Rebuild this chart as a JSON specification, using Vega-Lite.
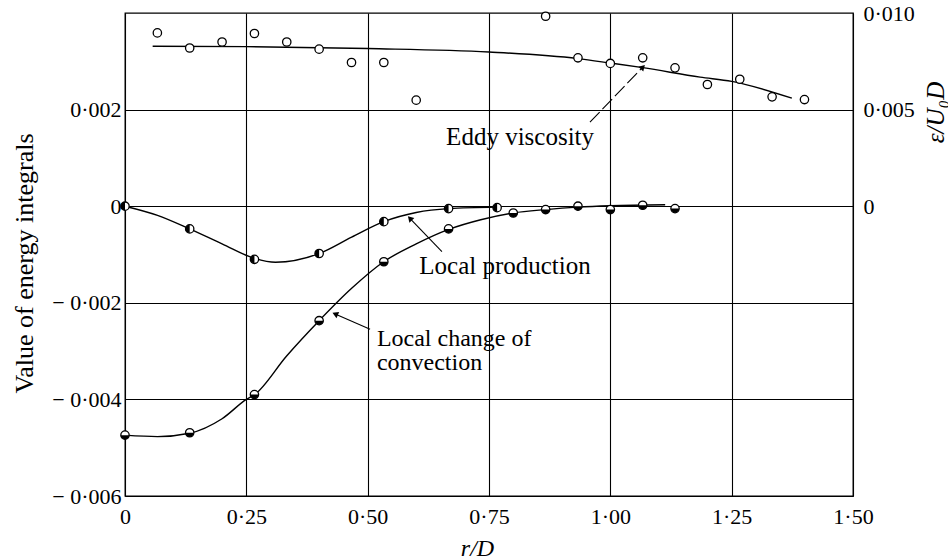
{
  "$schema": "https://vega.github.io/schema/vega-lite/v6.json",
  "width": 728,
  "height": 483,
  "autosize": {"type": "none"},
  "padding": {"left": 125, "top": 13, "right": 95, "bottom": 64},
  "background": "white",
  "config": {
    "view": {"stroke": "black", "strokeWidth": 1.3},
    "font": "Liberation Serif",
    "axis": {
      "labelFont": "Liberation Serif",
      "titleFont": "Liberation Serif",
      "labelColor": "black",
      "titleColor": "black",
      "domain": false,
      "ticks": false,
      "labelFontSize": 22,
      "titleFontSize": 25,
      "titleFontWeight": "normal",
      "gridColor": "black",
      "gridOpacity": 1,
      "gridWidth": 1.1
    }
  },
  "datasets": {
    "points": [
      {"series": "prod", "r": 0.0, "v": 0.0},
      {"series": "prod", "r": 0.1333, "v": -0.00047},
      {"series": "prod", "r": 0.2667, "v": -0.0011},
      {"series": "prod", "r": 0.4, "v": -0.00098},
      {"series": "prod", "r": 0.5333, "v": -0.00032},
      {"series": "prod", "r": 0.6667, "v": -0.00005},
      {"series": "prod", "r": 0.7667, "v": -0.00003},
      {"series": "conv", "r": 0.0, "v": -0.00474},
      {"series": "conv", "r": 0.1333, "v": -0.00469},
      {"series": "conv", "r": 0.2667, "v": -0.0039},
      {"series": "conv", "r": 0.4, "v": -0.00237},
      {"series": "conv", "r": 0.5333, "v": -0.00115},
      {"series": "conv", "r": 0.6667, "v": -0.00047},
      {"series": "conv", "r": 0.8, "v": -0.00014},
      {"series": "conv", "r": 0.8667, "v": -0.00007},
      {"series": "conv", "r": 0.9333, "v": 0.0},
      {"series": "conv", "r": 1.0, "v": -0.00007},
      {"series": "conv", "r": 1.0667, "v": 0.00002},
      {"series": "conv", "r": 1.1333, "v": -0.00005}
    ],
    "eddy": [
      {"r": 0.0667, "v": 0.00897},
      {"r": 0.1333, "v": 0.00819},
      {"r": 0.2, "v": 0.0085},
      {"r": 0.2667, "v": 0.00894},
      {"r": 0.3333, "v": 0.0085},
      {"r": 0.4, "v": 0.00813},
      {"r": 0.4667, "v": 0.00744},
      {"r": 0.5333, "v": 0.00744},
      {"r": 0.6, "v": 0.00549},
      {"r": 0.8667, "v": 0.00983},
      {"r": 0.9333, "v": 0.00768},
      {"r": 1.0, "v": 0.00739},
      {"r": 1.0667, "v": 0.00768},
      {"r": 1.1333, "v": 0.00716},
      {"r": 1.2, "v": 0.0063},
      {"r": 1.2667, "v": 0.00657},
      {"r": 1.3333, "v": 0.00566},
      {"r": 1.4, "v": 0.00552}
    ],
    "eddyCurve": [
      {"r": 0.057, "v": 0.00828},
      {"r": 0.25, "v": 0.00826},
      {"r": 0.5, "v": 0.00816},
      {"r": 0.75, "v": 0.00798},
      {"r": 0.933, "v": 0.00764},
      {"r": 1.0, "v": 0.00741},
      {"r": 1.067, "v": 0.00717},
      {"r": 1.185, "v": 0.00668},
      {"r": 1.25, "v": 0.00646},
      {"r": 1.374, "v": 0.00559}
    ],
    "curves": [
      {"series": "prod", "r": 0.0, "v": 0.0},
      {"series": "prod", "r": 0.067, "v": -0.00019},
      {"series": "prod", "r": 0.133, "v": -0.00047},
      {"series": "prod", "r": 0.2, "v": -0.00078},
      {"series": "prod", "r": 0.267, "v": -0.00108},
      {"series": "prod", "r": 0.31, "v": -0.00116},
      {"series": "prod", "r": 0.4, "v": -0.00098},
      {"series": "prod", "r": 0.467, "v": -0.00064},
      {"series": "prod", "r": 0.533, "v": -0.00032},
      {"series": "prod", "r": 0.6, "v": -0.00013},
      {"series": "prod", "r": 0.667, "v": -0.00005},
      {"series": "prod", "r": 0.767, "v": -0.00002},
      {"series": "conv", "r": 0.0, "v": -0.00474},
      {"series": "conv", "r": 0.067, "v": -0.00477},
      {"series": "conv", "r": 0.133, "v": -0.0047},
      {"series": "conv", "r": 0.2, "v": -0.0044},
      {"series": "conv", "r": 0.25, "v": -0.004},
      {"series": "conv", "r": 0.267, "v": -0.0039},
      {"series": "conv", "r": 0.333, "v": -0.0031},
      {"series": "conv", "r": 0.4, "v": -0.00237},
      {"series": "conv", "r": 0.467, "v": -0.0017},
      {"series": "conv", "r": 0.533, "v": -0.00115},
      {"series": "conv", "r": 0.6, "v": -0.00078},
      {"series": "conv", "r": 0.667, "v": -0.00048},
      {"series": "conv", "r": 0.733, "v": -0.00028},
      {"series": "conv", "r": 0.8, "v": -0.00014},
      {"series": "conv", "r": 0.867, "v": -0.00007},
      {"series": "conv", "r": 0.933, "v": -0.00002},
      {"series": "conv", "r": 1.0, "v": 0.00001},
      {"series": "conv", "r": 1.113, "v": 0.00003}
    ],
    "labels": [
      {"id": "eddy", "text": "Eddy viscosity", "r": 0.814, "v": 0.00127},
      {"id": "prod", "text": "Local production", "r": 0.783, "v": -0.00141},
      {"id": "conv", "text": "Local change of\nconvection", "r": 0.519, "v": -0.0029}
    ],
    "arrows": [
      {"id": "eddy", "r": 0.958, "v": 0.00174, "r2": 1.067, "v2": 0.00288},
      {"id": "prod", "r": 0.653, "v": -0.00094, "r2": 0.587, "v2": -0.00025},
      {"id": "conv", "r": 0.505, "v": -0.00255, "r2": 0.433, "v2": -0.00223}
    ]
  },
  "encoding": {
    "x": {
      "field": "r",
      "type": "quantitative",
      "scale": {"domain": [0, 1.5], "nice": false, "zero": false},
      "axis": {
        "values": [0, 0.25, 0.5, 0.75, 1.0, 1.25, 1.5],
        "labelExpr": "datum.value == 0 ? '0' : replace(format(datum.value, '.2f'), '.', '·')",
        "labelFlush": false,
        "labelPadding": 10,
        "grid": true,
        "title": "r/D",
        "titleFontStyle": "italic",
        "titleFontSize": 24,
        "titleX": 352,
        "titleY": 52,
        "titleBaseline": "middle",
        "titleAlign": "center"
      }
    }
  },
  "layer": [
    {
      "encoding": {
        "y": {
          "field": "v",
          "type": "quantitative",
          "scale": {"domain": [-0.006, 0.004], "nice": false, "zero": false},
          "axis": {
            "orient": "left",
            "values": [-0.006, -0.004, -0.002, 0, 0.002],
            "labelExpr": "datum.value == 0 ? '0' : (datum.value < 0 ? '− ' : '') + replace(format(abs(datum.value), '.3f'), '.', '·')",
            "labelPadding": 4,
            "grid": true,
            "title": "Value of energy integrals",
            "titleFontSize": 26,
            "titleX": -101,
            "titleY": 250,
            "titleAngle": -90,
            "titleAlign": "center",
            "titleBaseline": "middle"
          }
        }
      },
      "layer": [
        {
          "data": {"name": "curves"},
          "transform": [{"filter": "datum.series == 'prod'"}],
          "mark": {"type": "line", "interpolate": "monotone", "color": "black", "strokeWidth": 1.4}
        },
        {
          "data": {"name": "curves"},
          "transform": [{"filter": "datum.series == 'conv'"}],
          "mark": {"type": "line", "interpolate": "monotone", "color": "black", "strokeWidth": 1.4}
        },
        {
          "data": {"name": "arrows"},
          "transform": [{"filter": "datum.id == 'eddy'"}],
          "mark": {"type": "rule", "color": "black", "strokeWidth": 1.1, "strokeDash": [14, 4]},
          "encoding": {"x2": {"field": "r2"}, "y2": {"field": "v2"}}
        },
        {
          "data": {"name": "arrows"},
          "transform": [{"filter": "datum.id != 'eddy'"}],
          "mark": {"type": "rule", "color": "black", "strokeWidth": 1.1},
          "encoding": {"x2": {"field": "r2"}, "y2": {"field": "v2"}}
        },
        {
          "data": {"name": "arrows"},
          "transform": [{"filter": "datum.id == 'eddy'"}],
          "mark": {"type": "point", "shape": "triangle-up", "filled": true, "color": "black", "size": 45, "angle": 44, "opacity": 1},
          "encoding": {"x": {"field": "r2", "type": "quantitative"}, "y": {"field": "v2", "type": "quantitative"}}
        },
        {
          "data": {"name": "arrows"},
          "transform": [{"filter": "datum.id == 'prod'"}],
          "mark": {"type": "point", "shape": "triangle-up", "filled": true, "color": "black", "size": 45, "angle": -43, "opacity": 1},
          "encoding": {"x": {"field": "r2", "type": "quantitative"}, "y": {"field": "v2", "type": "quantitative"}}
        },
        {
          "data": {"name": "arrows"},
          "transform": [{"filter": "datum.id == 'conv'"}],
          "mark": {"type": "point", "shape": "triangle-up", "filled": true, "color": "black", "size": 45, "angle": -66, "opacity": 1},
          "encoding": {"x": {"field": "r2", "type": "quantitative"}, "y": {"field": "v2", "type": "quantitative"}}
        },
        {
          "data": {"name": "points"},
          "mark": {"type": "point", "shape": "circle", "filled": true, "fill": "white", "stroke": "black", "strokeWidth": 1.3, "size": 70, "opacity": 1}
        },
        {
          "data": {"name": "points"},
          "transform": [{"filter": "datum.series == 'prod'"}],
          "mark": {"type": "point", "shape": "M0,-1A1,1 0 0,0 0,1Z", "filled": true, "color": "black", "size": 70, "opacity": 1}
        },
        {
          "data": {"name": "points"},
          "transform": [{"filter": "datum.series == 'conv'"}],
          "mark": {"type": "point", "shape": "M-1,0A1,1 0 0,0 1,0Z", "filled": true, "color": "black", "size": 70, "opacity": 1}
        },
        {
          "data": {"name": "labels"},
          "transform": [{"filter": "datum.id != 'conv'"}],
          "mark": {"type": "text", "font": "Liberation Serif", "fontSize": 25, "color": "black", "align": "center", "baseline": "alphabetic"},
          "encoding": {"text": {"field": "text"}}
        },
        {
          "data": {"name": "labels"},
          "transform": [{"filter": "datum.id == 'conv'"}],
          "mark": {"type": "text", "font": "Liberation Serif", "fontSize": 24, "color": "black", "align": "left", "baseline": "alphabetic", "lineBreak": "\n", "lineHeight": 24},
          "encoding": {"text": {"field": "text"}}
        }
      ]
    },
    {
      "encoding": {
        "y": {
          "field": "v",
          "type": "quantitative",
          "scale": {"domain": [-0.015, 0.01], "nice": false, "zero": false},
          "axis": {
            "orient": "right",
            "values": [0, 0.005, 0.01],
            "labelExpr": "datum.value == 0 ? '0' : replace(format(datum.value, '.3f'), '.', '·')",
            "labelPadding": 10,
            "grid": false,
            "title": "ε/U₀D",
            "titleFontStyle": "italic",
            "titleX": 82,
            "titleY": 99,
            "titleAngle": -90,
            "titleAlign": "center",
            "titleBaseline": "middle"
          }
        }
      },
      "layer": [
        {
          "data": {"name": "eddyCurve"},
          "mark": {"type": "line", "interpolate": "monotone", "color": "black", "strokeWidth": 1.4}
        },
        {
          "data": {"name": "eddy"},
          "mark": {"type": "point", "shape": "circle", "filled": true, "fill": "white", "stroke": "black", "strokeWidth": 1.3, "size": 70, "opacity": 1}
        }
      ]
    }
  ],
  "resolve": {"scale": {"y": "independent"}}
}
